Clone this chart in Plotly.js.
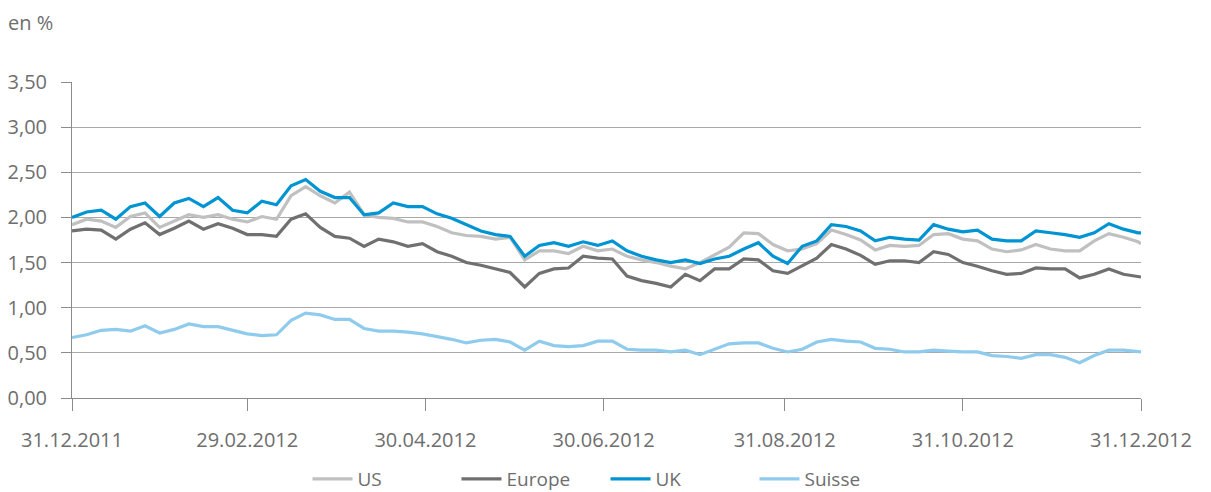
<!DOCTYPE html>
<html>
<head>
<meta charset="utf-8">
<script src="https://cdn.plot.ly/plotly-3.0.1.min.js"></script>
<style>
  html, body { margin: 0; padding: 0; background: #fff; }
  #chart { width: 1211px; height: 492px; }
</style>
</head>
<body>
<div id="chart"></div>
<script>
// Sample dates (every 5 days)
const dates = [
    '2011-12-31', '2012-01-05', '2012-01-10', '2012-01-15', '2012-01-20', '2012-01-25', '2012-01-30',
    '2012-02-04', '2012-02-09', '2012-02-14', '2012-02-19', '2012-02-24', '2012-02-29',
    '2012-03-05', '2012-03-10', '2012-03-15', '2012-03-20', '2012-03-25', '2012-03-30',
    '2012-04-04', '2012-04-09', '2012-04-14', '2012-04-19', '2012-04-24', '2012-04-29',
    '2012-05-04', '2012-05-09', '2012-05-14', '2012-05-19', '2012-05-24', '2012-05-29',
    '2012-06-03', '2012-06-08', '2012-06-13', '2012-06-18', '2012-06-23', '2012-06-28',
    '2012-07-03', '2012-07-08', '2012-07-13', '2012-07-18', '2012-07-23', '2012-07-28',
    '2012-08-02', '2012-08-07', '2012-08-12', '2012-08-17', '2012-08-22', '2012-08-27',
    '2012-09-01', '2012-09-06', '2012-09-11', '2012-09-16', '2012-09-21', '2012-09-26',
    '2012-10-01', '2012-10-06', '2012-10-11', '2012-10-16', '2012-10-21', '2012-10-26', '2012-10-31',
    '2012-11-05', '2012-11-10', '2012-11-15', '2012-11-20', '2012-11-25', '2012-11-30',
    '2012-12-05', '2012-12-10', '2012-12-15', '2012-12-20', '2012-12-25', '2012-12-30', '2012-12-31'
];

const usValues = [
    1.92, 1.98, 1.96, 1.89, 2.01, 2.05, 1.89, 1.96, 2.03, 2.00, 2.03, 1.98, 1.95, 2.01, 1.98,
    2.24, 2.34, 2.24, 2.16, 2.28, 2.03, 2.00, 1.99, 1.95, 1.95, 1.90, 1.83, 1.80, 1.79, 1.76,
    1.78, 1.53, 1.63, 1.63, 1.60, 1.68, 1.63, 1.65, 1.57, 1.53, 1.50, 1.46, 1.43, 1.50, 1.59,
    1.67, 1.83, 1.82, 1.70, 1.63, 1.65, 1.71, 1.86, 1.81, 1.75, 1.64, 1.69, 1.68, 1.69,
    1.81, 1.82, 1.76, 1.74, 1.65, 1.62, 1.64, 1.70, 1.65, 1.63, 1.63, 1.74, 1.82, 1.78, 1.73, 1.71
];

const europeValues = [
    1.85, 1.87, 1.86, 1.76, 1.87, 1.94, 1.81, 1.88, 1.96, 1.87, 1.93, 1.88, 1.81, 1.81, 1.79,
    1.98, 2.04, 1.89, 1.79, 1.77, 1.68, 1.76, 1.73, 1.68, 1.71, 1.62, 1.57, 1.50, 1.47, 1.43,
    1.39, 1.23, 1.38, 1.43, 1.44, 1.57, 1.55, 1.54, 1.35, 1.30, 1.27, 1.23, 1.37, 1.30, 1.43,
    1.43, 1.54, 1.53, 1.41, 1.38, 1.46, 1.55, 1.70, 1.65, 1.58, 1.48, 1.52, 1.52, 1.50,
    1.62, 1.59, 1.50, 1.46, 1.41, 1.37, 1.38, 1.44, 1.43, 1.43, 1.33, 1.37, 1.43, 1.37, 1.35, 1.34
];

const ukValues = [
    2.00, 2.06, 2.08, 1.98, 2.12, 2.16, 2.01, 2.16, 2.21, 2.12, 2.22, 2.08, 2.05, 2.18, 2.14,
    2.35, 2.42, 2.29, 2.22, 2.22, 2.03, 2.05, 2.16, 2.12, 2.12, 2.04, 1.99, 1.92, 1.85, 1.81,
    1.79, 1.57, 1.69, 1.72, 1.68, 1.73, 1.69, 1.74, 1.63, 1.57, 1.53, 1.50, 1.53, 1.49, 1.54,
    1.57, 1.65, 1.72, 1.57, 1.49, 1.68, 1.74, 1.92, 1.90, 1.85, 1.74, 1.78, 1.76, 1.75,
    1.92, 1.87, 1.84, 1.86, 1.76, 1.74, 1.74, 1.85, 1.83, 1.81, 1.78, 1.83, 1.93, 1.87, 1.83, 1.83
];

const suisseValues = [
    0.67, 0.70, 0.75, 0.76, 0.74, 0.80, 0.72, 0.76, 0.82, 0.79, 0.79, 0.75, 0.71, 0.69, 0.70,
    0.86, 0.94, 0.92, 0.87, 0.87, 0.77, 0.74, 0.74, 0.73, 0.71, 0.68, 0.65, 0.61, 0.64, 0.65,
    0.62, 0.53, 0.63, 0.58, 0.57, 0.58, 0.63, 0.63, 0.54, 0.53, 0.53, 0.51, 0.53, 0.48, 0.54,
    0.60, 0.61, 0.61, 0.55, 0.51, 0.54, 0.62, 0.65, 0.63, 0.62, 0.55, 0.54, 0.51, 0.51,
    0.53, 0.52, 0.51, 0.51, 0.47, 0.46, 0.44, 0.48, 0.48, 0.45, 0.39, 0.47, 0.53, 0.53, 0.52, 0.51
];

// Axis ticks
const xTickVals = ['2011-12-31', '2012-02-29', '2012-04-30', '2012-06-30', '2012-08-31', '2012-10-31', '2012-12-31'];
const xTickText = ['31.12.2011', '29.02.2012', '30.04.2012', '30.06.2012', '31.08.2012', '31.10.2012', '31.12.2012'];
const yTickVals = [0, 0.5, 1, 1.5, 2, 2.5, 3, 3.5];

const textColor = '#6e6e6e';
const gridColor = '#a8a8a8';

function makeTrace(name, values, color) {
    return {
        x: dates,
        y: values,
        type: 'scatter',
        mode: 'lines',
        name: name,
        line: { color: color, width: 3.2 }
    };
}

const traces = [
    makeTrace('US', usValues, '#c0c0c0'),
    makeTrace('Europe', europeValues, '#707070'),
    makeTrace('UK', ukValues, '#0094d2'),
    makeTrace('Suisse', suisseValues, '#8ecbec')
];

const layout = {
    width: 1211,
    height: 492,
    margin: { l: 72, r: 70, t: 82, b: 94, autoexpand: false },
    paper_bgcolor: '#fff',
    plot_bgcolor: '#fff',
    separators: ',.',
    font: { family: '"Open Sans", "DejaVu Sans", sans-serif', size: 20, color: textColor },
    title: {
        text: 'en %',
        x: 8 / 1211, xref: 'container', xanchor: 'left',
        y: 1 - 23 / 492, yref: 'container', yanchor: 'middle',
        font: { size: 20, color: textColor }
    },
    xaxis: {
        type: 'date',
        range: ['2011-12-31', '2012-12-31'],
        tickvals: xTickVals,
        ticktext: xTickText,
        ticks: 'outside',
        ticklen: 12,
        tickcolor: '#8c8c8c',
        showgrid: false,
        showline: true,
        linecolor: '#8c8c8c',
        linewidth: 1,
        zeroline: false,
        ticklabelstandoff: 12,
        tickfont: { size: 20, color: textColor }
    },
    yaxis: {
        range: [0, 3.5],
        tickvals: yTickVals,
        tickformat: '.2f',
        ticks: 'outside',
        ticklen: 10,
        tickcolor: '#8c8c8c',
        showgrid: true,
        gridcolor: gridColor,
        gridwidth: 1,
        showline: true,
        linecolor: '#8c8c8c',
        zeroline: false,
        ticklabelstandoff: 10,
        tickfont: { size: 20, color: textColor }
    },
    showlegend: true,
    legend: {
        orientation: 'h',
        x: 0.5,
        xanchor: 'center',
        xref: 'container',
        y: 13 / 492,
        yref: 'container',
        yanchor: 'middle',
        font: { size: 19, color: textColor },
        itemwidth: 40,
        entrywidth: 94,
        entrywidthmode: 'pixels',
        traceorder: 'normal'
    }
};

Plotly.newPlot('chart', traces, layout, { displayModeBar: false, staticPlot: true });
</script>
</body>
</html>
